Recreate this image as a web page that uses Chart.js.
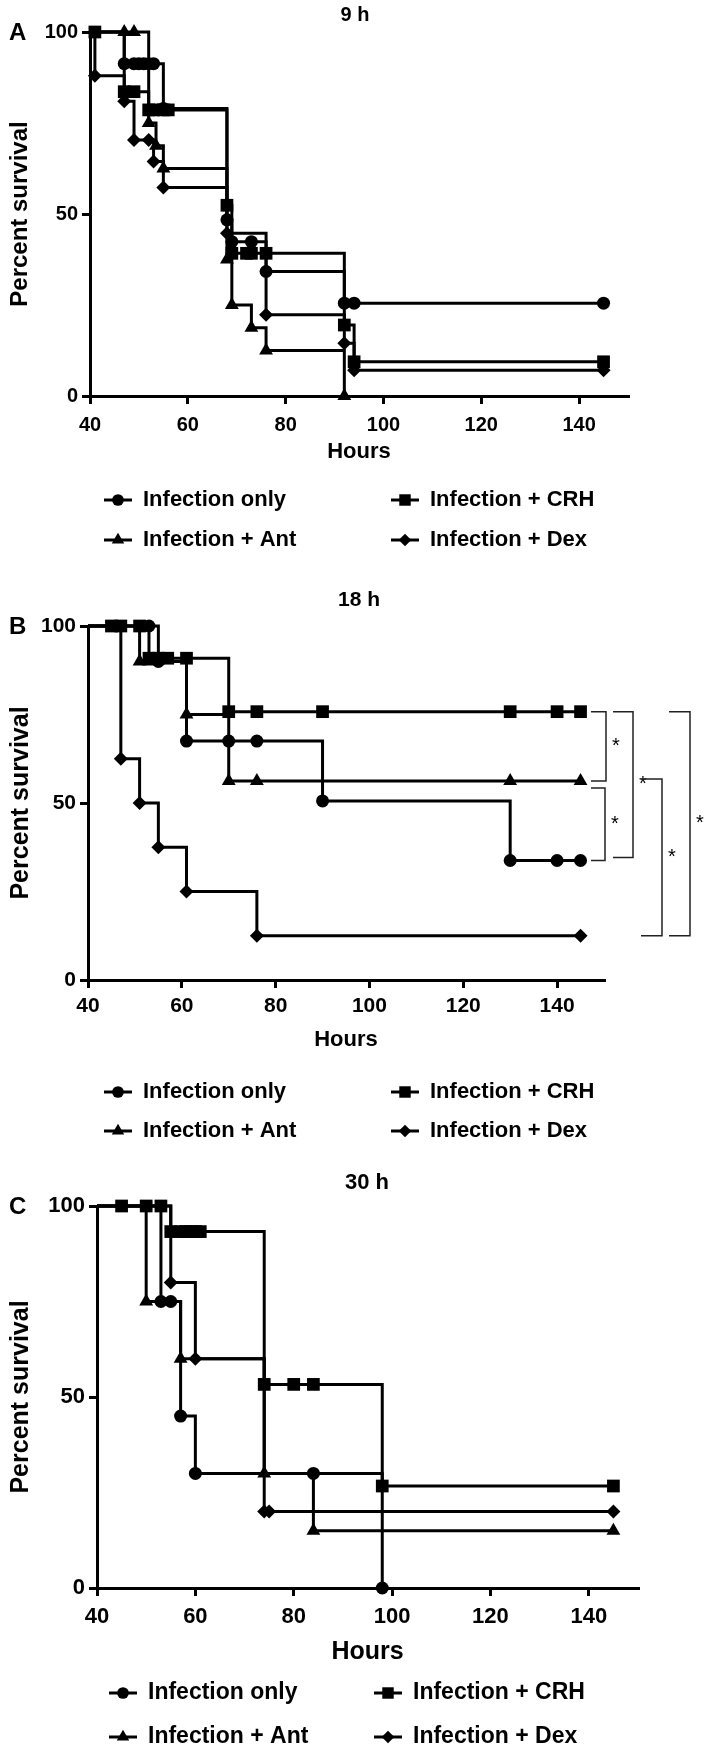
<!DOCTYPE html>
<html>
<head>
<meta charset="utf-8">
<script src="https://cdn.jsdelivr.net/npm/chart.js@4.4.1/dist/chart.umd.min.js"></script>
<style>
  html, body { margin: 0; padding: 0; background: #fff; }
  #wrap { position: relative; width: 709px; height: 1755px; }
  canvas { position: absolute; left: 0; }
</style>
</head>
<body>
<div id="wrap">
  <canvas id="chartA" width="709" height="565" style="top:0px"></canvas>
  <canvas id="chartB" width="709" height="575" style="top:570px"></canvas>
  <canvas id="chartC" width="709" height="605" style="top:1150px"></canvas>
</div>
<script>
const seriesNames = ["Infection only", "Infection + CRH", "Infection + Ant", "Infection + Dex"];
const xTickStep = 20;
const yTickStep = 50;

// 9 h
const hoursA_only = [40, 47, 49, 50, 51, 52, 53, 55, 68, 69, 73, 76, 92, 94, 145];
const survA_only  = [100, 91.3, 91.3, 91.3, 91.3, 91.3, 91.3, 79, 48.4, 42.4, 42.4, 34.2, 25.5, 25.5, 25.5];
const hoursA_crh  = [40, 41, 47, 49, 52, 53, 55, 56, 68, 69, 72, 73, 76, 92, 94, 145];
const survA_crh   = [100, 100, 83.6, 83.6, 78.6, 78.6, 78.6, 78.6, 52.4, 39.2, 39.2, 39.2, 39.2, 19.5, 9.4, 9.4];
const hoursA_ant  = [40, 47, 49, 52, 53.5, 55, 68, 69, 73, 76, 92];
const survA_ant   = [100, 100, 100, 75, 68.75, 62.5, 37.5, 25, 18.75, 12.5, 0];
const hoursA_dex  = [40, 41, 47, 49, 52, 53, 55, 68, 76, 92, 94, 145];
const survA_dex   = [100, 88, 81, 70.3, 70.3, 64.4, 57.3, 44.7, 22.3, 14.5, 7.1, 7.1];

// 18 h
const hoursB_only = [40, 53, 55, 61, 70, 76, 90, 130, 140, 145];
const survB_only  = [100, 100, 90, 67.5, 67.5, 67.5, 50.6, 33.75, 33.75, 33.75];
const hoursB_crh  = [40, 45, 47, 51, 53, 55, 57, 61, 70, 76, 90, 130, 140, 145];
const survB_crh   = [100, 100, 100, 100, 90.9, 90.9, 90.9, 90.9, 75.8, 75.8, 75.8, 75.8, 75.8, 75.8];
const hoursB_ant  = [40, 51, 53, 61, 70, 76, 130, 145];
const survB_ant   = [100, 90, 90, 75, 56.25, 56.25, 56.25, 56.25];
const hoursB_dex  = [40, 47, 51, 55, 61, 76, 145];
const survB_dex   = [100, 62.5, 50, 37.5, 25, 12.5, 12.5];

// significance brackets in 18 h (series index pairs)
const bracketPairs = [[1, 2], [2, 0], [1, 0], [2, 3], [1, 3]];
const bracketLabels = ["*", "*", "*", "*", "*"];

// 30 h
const hoursC_only = [40, 53, 55, 57, 60, 84, 98];
const survC_only  = [100, 75, 75, 45, 30, 30, 0];
const hoursC_crh  = [40, 45, 50, 53, 55, 57, 58, 59, 60, 61, 74, 80, 84, 98, 145];
const survC_crh   = [100, 100, 100, 100, 93.3, 93.3, 93.3, 93.3, 93.3, 93.3, 53.3, 53.3, 53.3, 26.7, 26.7];
const hoursC_ant  = [40, 50, 57, 74, 84, 145];
const survC_ant   = [100, 75, 60, 30, 15, 15];
const hoursC_dex  = [40, 55, 60, 74, 75, 145];
const survC_dex   = [100, 80, 60, 20, 20, 20];

const FONT = "'Liberation Sans', Arial, Helvetica, sans-serif";
const markers = [
  { style: "circle", r: 6.5 },
  { style: "rect", r: 9 },
  { style: "triangle", r: 8 },
  { style: "rectRot", r: 7 }
];

function drawMarker(ctx, style, x, y, r) {
  ctx.beginPath();
  if (style === "circle") {
    ctx.arc(x, y, r, 0, Math.PI * 2);
  } else if (style === "rect") {
    const s = r * Math.SQRT1_2;
    ctx.rect(x - s, y - s, 2 * s, 2 * s);
  } else if (style === "triangle") {
    ctx.moveTo(x, y - r);
    ctx.lineTo(x + r * 0.866, y + r * 0.5);
    ctx.lineTo(x - r * 0.866, y + r * 0.5);
    ctx.closePath();
  } else {
    ctx.moveTo(x, y - r);
    ctx.lineTo(x + r, y);
    ctx.lineTo(x, y + r);
    ctx.lineTo(x - r, y);
    ctx.closePath();
  }
  ctx.fill();
}

const decorPlugin = {
  id: "decor",
  afterDraw(chart, args, opts) {
    const { ctx, chartArea } = chart;
    ctx.save();
    ctx.fillStyle = "#000";
    ctx.strokeStyle = "#000";

    ctx.font = `bold ${opts.titleSize}px ${FONT}`;
    ctx.textAlign = "center";
    ctx.textBaseline = "middle";
    ctx.fillText(opts.title, opts.titleX, opts.titleY);

    ctx.font = `bold ${opts.letterSize}px ${FONT}`;
    ctx.textAlign = "left";
    ctx.fillText(opts.letter, opts.letterX, chartArea.top + 1);

    // legend, 2 x 2
    ctx.font = `bold ${opts.legendSize}px ${FONT}`;
    seriesNames.forEach((name, i) => {
      const mx = opts.legendCols[i % 2];
      const y = opts.legendRows[Math.floor(i / 2)];
      ctx.lineWidth = 3;
      ctx.beginPath();
      ctx.moveTo(mx - 14, y);
      ctx.lineTo(mx + 14, y);
      ctx.stroke();
      drawMarker(ctx, markers[i].style, mx, y, markers[i].r * 0.9);
      ctx.textAlign = "left";
      ctx.fillText(name, mx + opts.legendGap, y);
    });

    if (opts.brackets) {
      const ys = chart.scales.y;
      const last = (i) => {
        const d = chart.data.datasets[i].data;
        return d[d.length - 1].y;
      };
      ctx.lineWidth = 1.5;
      ctx.strokeStyle = "#222";
      ctx.font = `20px ${FONT}`;
      bracketPairs.forEach((pair, k) => {
        const [x0, x1] = opts.bracketX[k];
        const [n0, n1] = opts.bracketNudge[k];
        const top = ys.getPixelForValue(last(pair[0])) + n0;
        const bot = ys.getPixelForValue(last(pair[1])) + n1;
        const left = chartArea.right + x0;
        const right = chartArea.right + x1;
        ctx.beginPath();
        ctx.moveTo(left, top);
        ctx.lineTo(right, top);
        ctx.lineTo(right, bot);
        ctx.lineTo(left, bot);
        ctx.stroke();
        ctx.textAlign = "left";
        ctx.fillText(bracketLabels[k], right + 6, (top + bot) / 2);
      });
    }
    ctx.restore();
  }
};

function makeDatasets(hoursList, survList) {
  return seriesNames.map((name, i) => ({
    label: name,
    data: hoursList[i].map((h, j) => ({ x: h, y: survList[i][j] })),
    stepped: true,
    borderColor: "#000",
    backgroundColor: "#000",
    borderWidth: 3,
    pointStyle: markers[i].style,
    pointRadius: (c) => (c.dataIndex === 0 ? 0 : markers[i].r),
    pointBorderWidth: 0,
    pointBackgroundColor: "#000",
    clip: false
  }));
}

function makePanel(id, hoursList, survList, p) {
  const ctx = document.getElementById(id).getContext("2d");
  return new Chart(ctx, {
    type: "line",
    data: { datasets: makeDatasets(hoursList, survList) },
    options: {
      responsive: false,
      animation: false,
      events: [],
      layout: { padding: { left: 4, top: p.area.t, right: 709 - p.area.r, bottom: p.padBottom } },
      plugins: {
        legend: { display: false },
        tooltip: { enabled: false },
        title: { display: false },
        decor: p.decor
      },
      scales: {
        x: {
          type: "linear",
          min: 40,
          max: 150,
          border: { display: true, color: "#000", width: 3 },
          grid: { display: true, drawOnChartArea: false, drawTicks: true, tickLength: 8, color: "#000", lineWidth: 3 },
          ticks: {
            stepSize: xTickStep,
            includeBounds: false,
            maxRotation: 0,
            color: "#000",
            padding: p.xTickPad,
            font: { family: FONT, size: p.tickSize, weight: "bold" }
          },
          title: {
            display: true,
            text: "Hours",
            color: "#000",
            padding: 0,
            font: { family: FONT, size: p.hoursSize, weight: "bold" }
          },
          afterFit(s) { s.height = p.xHeight; }
        },
        y: {
          min: 0,
          max: 100,
          border: { display: true, color: "#000", width: 3 },
          grid: { display: true, drawOnChartArea: false, drawTicks: true, tickLength: 8, color: "#000", lineWidth: 3 },
          ticks: {
            stepSize: yTickStep,
            color: "#000",
            padding: 4,
            font: { family: FONT, size: p.tickSize, weight: "bold" }
          },
          title: {
            display: true,
            text: "Percent survival",
            color: "#000",
            padding: { top: 2, bottom: 0 },
            font: { family: FONT, size: p.percentSize, weight: "bold" }
          },
          afterFit(s) { s.width = p.area.l - 4; }
        }
      }
    },
    plugins: [decorPlugin]
  });
}

makePanel("chartA",
  [hoursA_only, hoursA_crh, hoursA_ant, hoursA_dex],
  [survA_only, survA_crh, survA_ant, survA_dex],
  {
    area: { l: 90, r: 628, t: 32 }, padBottom: 100, xHeight: 69, xTickPad: 9,
    tickSize: 20, hoursSize: 22, percentSize: 24,
    decor: {
      title: "9 h", titleX: 355, titleY: 15, titleSize: 20,
      letter: "A", letterX: 9, letterSize: 24,
      legendSize: 22, legendCols: [118, 405], legendGap: 25, legendRows: [500, 540]
    }
  });

makePanel("chartB",
  [hoursB_only, hoursB_crh, hoursB_ant, hoursB_dex],
  [survB_only, survB_crh, survB_ant, survB_dex],
  {
    area: { l: 88, r: 604, t: 56 }, padBottom: 92, xHeight: 73, xTickPad: 6,
    tickSize: 21, hoursSize: 22, percentSize: 25,
    decor: {
      title: "18 h", titleX: 359, titleY: 30, titleSize: 21,
      letter: "B", letterX: 9, letterSize: 24,
      legendSize: 22, legendCols: [118, 405], legendGap: 25, legendRows: [522, 561],
      brackets: true,
      bracketX: [[-13, 2], [-13, 1], [9, 29], [37, 58], [65, 86]],
      bracketNudge: [[0, 0], [7, 0], [0, -3], [-2, 0], [0, 0]]
    }
  });

makePanel("chartC",
  [hoursC_only, hoursC_crh, hoursC_ant, hoursC_dex],
  [survC_only, survC_crh, survC_ant, survC_dex],
  {
    area: { l: 97, r: 638, t: 56 }, padBottom: 88, xHeight: 79, xTickPad: 8,
    tickSize: 22, hoursSize: 25, percentSize: 25,
    decor: {
      title: "30 h", titleX: 367, titleY: 33, titleSize: 22,
      letter: "C", letterX: 9, letterSize: 24,
      legendSize: 23, legendCols: [123, 388], legendGap: 25, legendRows: [543, 587]
    }
  });
</script>
</body>
</html>
